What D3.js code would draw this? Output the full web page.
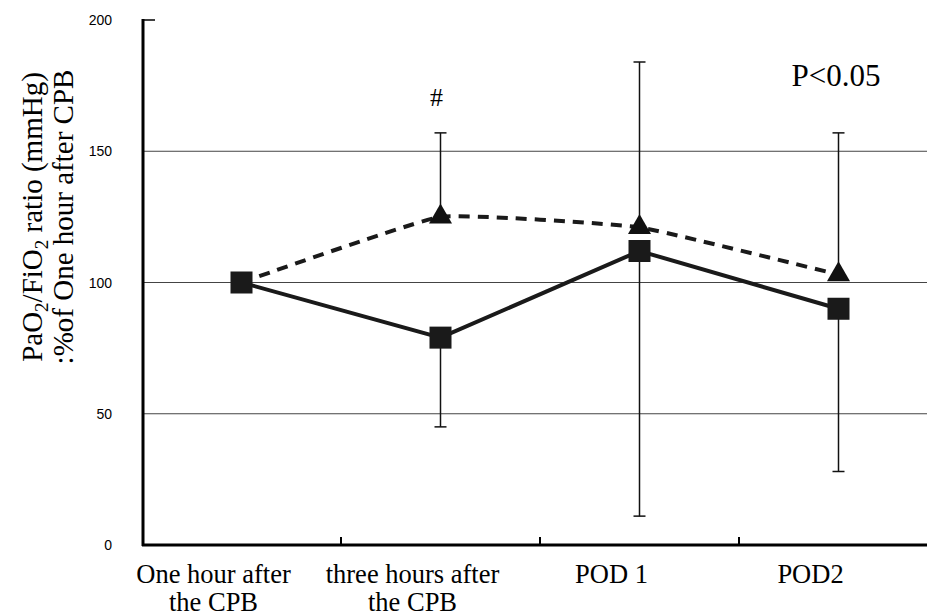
<!DOCTYPE html>
<html>
<head>
  <meta charset="utf-8">
  <title>PaO2/FiO2 ratio</title>
  <script src="https://cdn.jsdelivr.net/npm/d3@7"></script>
  <style>
    body { margin: 0; background: #fff; }
    .serif { font-family: "Liberation Serif", "Times New Roman", serif; fill: #000; }
    .tick-label { font-family: "Liberation Sans", Arial, sans-serif; font-size: 14px; fill: #000; }
  </style>
</head>
<body>
<svg id="chart" width="927" height="616"></svg>
<script>
  // data
  var categories = ["one", "three", "pod1", "pod2"];
  var categoryLabels = [["One hour after", "the CPB"], ["three hours after", "the CPB"], ["POD 1"], ["POD2"]];
  var squareValues = [100, 79, 112, 90];
  var squareErrDown = [0, 34, 101, 62];
  var triangleValues = [100, 125, 121, 103];
  var triangleErrUp = [0, 32, 63, 54];
  var yTicks = [0, 50, 100, 150, 200];
  var gridTicks = [50, 100, 150];

  var svg = d3.select("#chart");

  var x = d3.scaleBand().domain(categories).range([142, 938]);
  var y = d3.scaleLinear().domain([0, 200]).range([545, 20]);
  var cx = function(c) { return x(c) + x.bandwidth() / 2; };

  // grid lines
  svg.selectAll(".grid").data(gridTicks).enter().append("line")
    .attr("x1", 143).attr("x2", 927)
    .attr("y1", function(d) { return y(d); }).attr("y2", function(d) { return y(d); })
    .attr("stroke", "#444").attr("stroke-width", 1);

  // top tick
  svg.append("line").attr("x1", 143).attr("x2", 155)
    .attr("y1", y(200)).attr("y2", y(200))
    .attr("stroke", "#000").attr("stroke-width", 1.5);

  // y tick labels
  svg.selectAll(".tick-label").data(yTicks).enter().append("text")
    .attr("class", "tick-label")
    .attr("x", 112).attr("y", function(d) { return y(d) + 5; })
    .attr("text-anchor", "end")
    .text(function(d) { return d; });

  // x ticks between categories
  svg.selectAll(".xtick").data(categories.slice(1)).enter().append("line")
    .attr("x1", function(d) { return x(d); }).attr("x2", function(d) { return x(d); })
    .attr("y1", 545).attr("y2", 537)
    .attr("stroke", "#000").attr("stroke-width", 2);

  // axes
  svg.append("line").attr("x1", 143).attr("x2", 143).attr("y1", 19).attr("y2", 546)
    .attr("stroke", "#000").attr("stroke-width", 3);
  svg.append("line").attr("x1", 142).attr("x2", 927).attr("y1", 545).attr("y2", 545)
    .attr("stroke", "#000").attr("stroke-width", 3);

  // x labels
  var xl = svg.selectAll(".xlabel").data(categories).enter().append("text")
    .attr("class", "serif")
    .attr("text-anchor", "middle")
    .style("font-size", "26.5px")
    .attr("transform", function(d) { return "translate(" + (cx(d) - 28) + ",583)"; });
  xl.selectAll("tspan").data(function(d, i) { return categoryLabels[i]; }).enter().append("tspan")
    .attr("x", 0).attr("dy", function(d, i) { return i === 0 ? 0 : 28; })
    .text(function(d) { return d; });

  // error bars
  function errBars(vals, errs, dir) {
    var g = svg.append("g").attr("stroke", "#111").attr("stroke-width", 1.5);
    categories.forEach(function(c, i) {
      if (!errs[i]) return;
      var end = vals[i] + dir * errs[i];
      g.append("line").attr("x1", cx(c)).attr("x2", cx(c))
        .attr("y1", y(vals[i])).attr("y2", y(end));
      g.append("line").attr("x1", cx(c) - 6).attr("x2", cx(c) + 6)
        .attr("y1", y(end)).attr("y2", y(end));
    });
  }
  errBars(triangleValues, triangleErrUp, 1);
  errBars(squareValues, squareErrDown, -1);

  // lines
  var dashedLine = d3.line()
    .x(function(d, i) { return cx(categories[i]); })
    .y(function(d) { return y(d); })
    .curve(d3.curveCardinal.tension(0.65));
  svg.append("path").datum(triangleValues)
    .attr("d", dashedLine)
    .attr("fill", "none").attr("stroke", "#1a1a1a").attr("stroke-width", 4)
    .attr("stroke-dasharray", "11,8");

  var solidLine = d3.line()
    .x(function(d, i) { return cx(categories[i]); })
    .y(function(d) { return y(d); });
  svg.append("path").datum(squareValues)
    .attr("d", solidLine)
    .attr("fill", "none").attr("stroke", "#1a1a1a").attr("stroke-width", 4);

  // markers
  svg.selectAll(".tri").data(triangleValues).enter().append("path")
    .attr("d", d3.symbol().type(d3.symbolTriangle).size(230))
    .attr("transform", function(d, i) { return "translate(" + cx(categories[i]) + "," + y(d) + ")"; })
    .attr("fill", "#111")
    .style("display", function(d, i) { return i === 0 ? "none" : null; });

  svg.selectAll(".sq").data(squareValues).enter().append("rect")
    .attr("x", function(d, i) { return cx(categories[i]) - 11; })
    .attr("y", function(d) { return y(d) - 11; })
    .attr("width", 22).attr("height", 22)
    .attr("fill", "#1a1a1a");

  // annotations
  svg.append("text").attr("class", "serif").style("font-size", "26px")
    .attr("x", cx("three") - 4).attr("y", 106).attr("text-anchor", "middle").text("#");
  svg.append("text").attr("class", "serif").style("font-size", "31px")
    .attr("x", 836).attr("y", 86).attr("text-anchor", "middle").text("P<0.05");

  // y axis title
  var yt = svg.append("text").attr("class", "serif")
    .style("font-size", "29px")
    .attr("text-anchor", "middle")
    .attr("transform", "translate(42,217) rotate(-90)");
  var l1 = yt.append("tspan").attr("x", 0).attr("y", 0);
  l1.append("tspan").text("PaO");
  l1.append("tspan").attr("dy", 6).style("font-size", "19px").text("2");
  l1.append("tspan").attr("dy", -6).text("/FiO");
  l1.append("tspan").attr("dy", 6).style("font-size", "19px").text("2");
  l1.append("tspan").attr("dy", -6).text(" ratio (mmHg)");
  yt.append("tspan").attr("x", 0).attr("y", 31).text(":%of One hour after CPB");
</script>
</body>
</html>
